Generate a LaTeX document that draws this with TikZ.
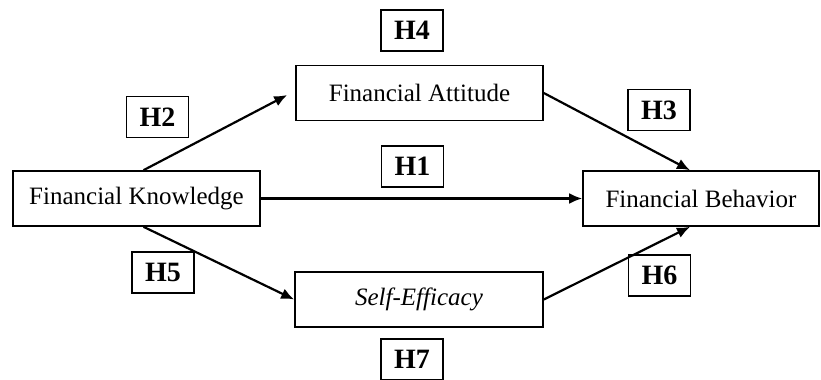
\documentclass[tikz,border=0pt]{standalone}
\usepackage{fontspec}
\setmainfont{Liberation Serif}
\usepackage{tikz}
\usetikzlibrary{arrows.meta}

\begin{document}
\begin{tikzpicture}[x=0.5pt, y=-0.5pt,
    construct/.style={draw, line width=0.8pt, minimum height=27.5pt, inner sep=0pt, font=\fontsize{12.5}{14}\selectfont},
    hyp/.style={draw, line width=0.8pt, minimum width=31pt, minimum height=20.5pt, inner sep=0pt, font=\fontsize{14}{16}\selectfont\bfseries},
    path/.style={-{Latex[length=6.5pt,width=5.5pt]}, line width=1.1pt}]
    \useasboundingbox (0,0) rectangle (821,380);

    % The four constructs
    \node[construct, minimum width=123.5pt] (fk) at (136.5,198.5) {Financial Knowledge};
    \node[construct, minimum width=123.5pt] (fa) at (419.5,93) {Financial Attitude};
    \node[construct, minimum width=118pt] (fb) at (701,198.5) {Financial Behavior};
    \node[construct, minimum width=124pt] (se) at (419,299.5) {\itshape Self-Efficacy};

    % The hypotheses
    \node[hyp] (h1) at (412.5,166.5) {H1};
    \node[hyp] (h2) at (157.5,117) {H2};
    \node[hyp] (h3) at (659,110) {H3};
    \node[hyp] (h4) at (412,30.5) {H4};
    \node[hyp] (h5) at (163,272.5) {H5};
    \node[hyp] (h6) at (659.5,275.5) {H6};
    \node[hyp] (h7) at (412,359.5) {H7};

    % The paths
    \draw[path] ([xshift=3.5pt]fk.north) -- ([xshift=-4pt,yshift=-1pt]fa.west);
    \draw[path] (fk.east) -- (fb.west);
    \draw[path] ([xshift=3.5pt]fk.south) -- (se.west);
    \draw[path] (fa.east) -- ([xshift=-5.5pt]fb.north);
    \draw[path] (se.east) -- ([xshift=-5.5pt]fb.south);
\end{tikzpicture}
\end{document}
